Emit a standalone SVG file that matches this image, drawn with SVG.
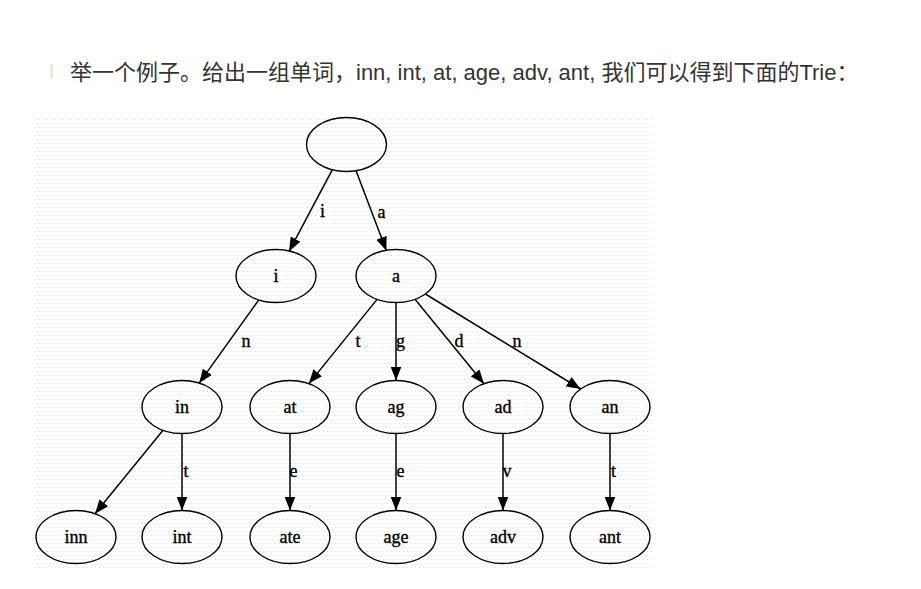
<svg xmlns="http://www.w3.org/2000/svg" width="921" height="589" viewBox="0 0 921 589">
<style>
.hdr{font-family:"Liberation Sans","Noto Sans CJK SC",sans-serif;font-size:22px;fill:#333}
.nd ellipse{fill:none;stroke:#000;stroke-width:1.4}
.nd text{font-family:"Liberation Serif","DejaVu Serif",serif;font-size:18px;fill:#000;stroke:#000;stroke-width:0.35;text-anchor:middle}
.lbl{font-family:"Liberation Serif","DejaVu Serif",serif;font-size:18px;fill:#000;stroke:#000;stroke-width:0.35;text-anchor:middle}
.edge line{stroke:#000;stroke-width:1.5;marker-end:url(#arr)}
</style>
<defs>
<marker id="arr" viewBox="0 0 14 11" refX="14" refY="5.5" markerWidth="14" markerHeight="11" markerUnits="userSpaceOnUse" orient="auto">
<path d="M0,0 L14,5.5 L0,11 z" fill="#000"/>
</marker>
<pattern id="dots" x="35" y="119" width="8" height="8" patternUnits="userSpaceOnUse">
<rect x="0" y="0" width="1" height="1" fill="#cdeec4"/>
<rect x="4" y="0" width="1" height="1" fill="#cdeec4"/>
<rect x="2" y="4" width="1" height="1" fill="#efcdea"/>
<rect x="6" y="4" width="1" height="1" fill="#cdeec4"/>
</pattern>
</defs>
<rect width="921" height="589" fill="#fff"/>
<rect x="50" y="64" width="3" height="14" fill="#f3e4d8"/>
<text class="hdr" x="70" y="80">举一个例子。给出一组单词，inn, int, at, age, adv, ant, 我们可以得到下面的Trie：</text>
<rect x="35" y="119" width="617" height="451" fill="url(#dots)"/>

<g id="connectors" class="edge">
<line x1="332.5" y1="169.4" x2="289" y2="251.4"/>
<line x1="355.9" y1="170.2" x2="386.4" y2="250.8"/>
<line x1="258.8" y1="299.9" x2="199.2" y2="383.1"/>
<line x1="377.1" y1="299.4" x2="308.9" y2="383.6"/>
<line x1="396" y1="302.5" x2="396" y2="380.5"/>
<line x1="415" y1="299.3" x2="484" y2="383.7"/>
<line x1="425.4" y1="294" x2="580.6" y2="389"/>
<line x1="163" y1="430.3" x2="95" y2="513.7"/>
<line x1="182" y1="433.5" x2="182" y2="510.5"/>
<line x1="290" y1="433.5" x2="290" y2="510.5"/>
<line x1="396" y1="433.5" x2="396" y2="510.5"/>
<line x1="503" y1="433.5" x2="503" y2="510.5"/>
<line x1="610" y1="433.5" x2="610" y2="510.5"/>
<text class="lbl" x="322.5" y="217">i</text>
<text class="lbl" x="381.5" y="218">a</text>
<text class="lbl" x="246" y="347">n</text>
<text class="lbl" x="358" y="347">t</text>
<text class="lbl" x="400.5" y="347">g</text>
<text class="lbl" x="459" y="347">d</text>
<text class="lbl" x="517" y="347">n</text>
<text class="lbl" x="186" y="477">t</text>
<text class="lbl" x="293.5" y="477">e</text>
<text class="lbl" x="400.5" y="477">e</text>
<text class="lbl" x="507" y="477">v</text>
<text class="lbl" x="613.5" y="477">t</text>
</g>

<g id="n_root" class="nd"><ellipse cx="346.5" cy="144.5" rx="40" ry="27"/></g>
<g id="n_i" class="nd"><ellipse cx="276" cy="276" rx="40" ry="26.5"/><text x="276" y="282">i</text></g>
<g id="n_a" class="nd"><ellipse cx="396" cy="276" rx="40" ry="26.5"/><text x="396" y="282">a</text></g>
<g id="n_in" class="nd"><ellipse cx="182" cy="407" rx="40" ry="26.5"/><text x="182" y="413">in</text></g>
<g id="n_at" class="nd"><ellipse cx="290" cy="407" rx="40" ry="26.5"/><text x="290" y="413">at</text></g>
<g id="n_ag" class="nd"><ellipse cx="396" cy="407" rx="40" ry="26.5"/><text x="396" y="413">ag</text></g>
<g id="n_ad" class="nd"><ellipse cx="503" cy="407" rx="40" ry="26.5"/><text x="503" y="413">ad</text></g>
<g id="n_an" class="nd"><ellipse cx="610" cy="407" rx="40" ry="26.5"/><text x="610" y="413">an</text></g>
<g id="n_inn" class="nd"><ellipse cx="76" cy="537" rx="40" ry="26.5"/><text x="76" y="543">inn</text></g>
<g id="n_int" class="nd"><ellipse cx="182" cy="537" rx="40" ry="26.5"/><text x="182" y="543">int</text></g>
<g id="n_ate" class="nd"><ellipse cx="290" cy="537" rx="40" ry="26.5"/><text x="290" y="543">ate</text></g>
<g id="n_age" class="nd"><ellipse cx="396" cy="537" rx="40" ry="26.5"/><text x="396" y="543">age</text></g>
<g id="n_adv" class="nd"><ellipse cx="503" cy="537" rx="40" ry="26.5"/><text x="503" y="543">adv</text></g>
<g id="n_ant" class="nd"><ellipse cx="610" cy="537" rx="40" ry="26.5"/><text x="610" y="543">ant</text></g>
</svg>
